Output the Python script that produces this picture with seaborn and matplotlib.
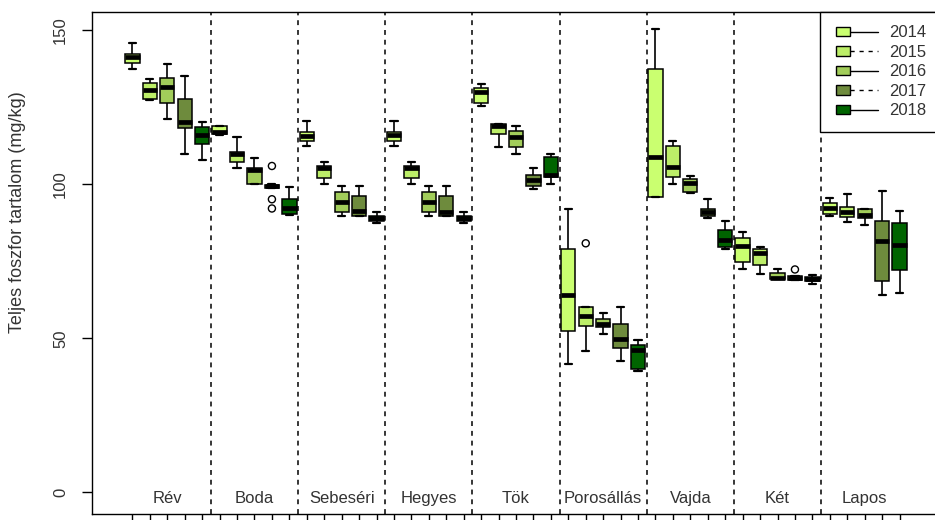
import numpy as np
import pandas as pd
import matplotlib
matplotlib.use("Agg")
import matplotlib.pyplot as plt
import matplotlib.transforms as mtransforms
from matplotlib.legend_handler import HandlerBase
from matplotlib.patches import Patch, Rectangle
from matplotlib.lines import Line2D
import seaborn as sns

# Sampling sites and years
sites = ["Rév", "Boda", "Sebeséri", "Hegyes", "Tök", "Porosállás", "Vajda", "Két", "Lapos"]
years = ["2014", "2015", "2016", "2017", "2018"]
colors = ["#CAFF70", "#BCEE68", "#A2CD5A", "#6E8B3D", "#006400"]
key_styles = ["-", "--", "-", "--", "-"]

# Five-number summaries (mg/kg), site by site, years 2014..2018
whisker_low = [
    137.4, 127.5, 121.4, 109.8, 108.0,   # Rév
    116.2, 105.3, 100.0, 98.8, 90.2,     # Boda
    112.5, 100.0, 89.8, 89.7, 87.4,      # Sebeséri
    112.5, 100.0, 89.8, 89.7, 87.4,      # Hegyes
    125.6, 112.3, 109.8, 98.4, 100.0,    # Tök
    41.8, 45.9, 51.6, 42.7, 39.3,        # Porosállás
    95.8, 100.1, 97.3, 89.0, 78.9,       # Vajda
    72.5, 70.8, 69.2, 68.9, 67.6,        # Két
    89.9, 87.7, 86.8, 64.1, 64.8,        # Lapos
]
box_low = [
    139.3, 127.7, 126.4, 118.4, 113.2,
    116.3, 107.2, 100.0, 99.0, 90.3,
    114.1, 102.2, 91.1, 89.7, 88.2,
    114.1, 102.2, 91.1, 89.7, 88.2,
    126.4, 116.3, 112.3, 99.6, 102.3,
    52.5, 54.1, 53.8, 46.9, 40.2,
    95.8, 102.5, 97.6, 89.8, 79.6,
    74.9, 74.0, 69.2, 68.9, 68.6,
    90.3, 89.3, 89.0, 68.6, 72.1,
]
median = [
    141.5, 130.7, 131.5, 120.4, 116.1,
    116.9, 109.9, 104.7, 99.5, 92.2,
    115.8, 105.5, 94.2, 91.4, 89.0,
    116.0, 105.3, 94.4, 91.1, 89.0,
    129.9, 119.0, 115.4, 101.5, 103.1,
    64.1, 57.3, 54.8, 49.7, 46.2,
    109.0, 105.6, 100.6, 91.1, 81.9,
    80.1, 77.6, 69.7, 69.6, 69.3,
    92.2, 91.1, 90.1, 81.7, 80.5,
]
box_high = [
    142.5, 133.1, 134.7, 127.7, 118.6,
    119.1, 110.7, 105.3, 99.8, 95.3,
    117.0, 106.1, 97.5, 96.2, 89.7,
    117.0, 106.1, 97.5, 96.2, 89.7,
    131.3, 119.6, 117.5, 103.1, 108.8,
    79.2, 60.3, 56.3, 54.6, 47.8,
    137.4, 112.5, 101.8, 92.0, 85.2,
    82.5, 79.2, 71.1, 70.2, 70.0,
    94.1, 92.8, 91.9, 88.1, 87.4,
]
whisker_high = [
    146.0, 134.3, 139.1, 135.3, 120.3,
    119.1, 115.3, 108.5, 100.0, 99.1,
    120.7, 107.2, 99.6, 99.6, 91.0,
    120.7, 107.2, 99.6, 99.6, 91.0,
    132.7, 119.6, 119.0, 105.3, 109.8,
    91.9, 60.3, 58.3, 60.3, 49.4,
    150.4, 114.0, 102.9, 95.3, 88.1,
    84.6, 79.6, 72.7, 70.2, 70.6,
    95.7, 96.8, 91.9, 98.0, 91.5,
]

# Outlying samples
outlier_site = ["Boda", "Boda", "Boda", "Porosállás", "Két"]
outlier_year = ["2017", "2017", "2017", "2015", "2017"]
outlier_value = [106.0, 95.2, 92.2, 80.9, 72.4]

sns.set_theme(style="ticks")
plt.rcParams["font.family"] = ["Liberation Sans", "DejaVu Sans"]
plt.rcParams["text.color"] = "#333333"

# Long table: one row per summary value, so each box is drawn from its own five numbers
rows = []
n_years = len(years)
for i, site in enumerate(sites):
    for j, year in enumerate(years):
        k = i * n_years + j
        for v in (whisker_low[k], box_low[k], median[k], box_high[k], whisker_high[k]):
            rows.append({"site": site, "year": year, "value": v})
df = pd.DataFrame(rows)


def slot(site, year):
    return sites.index(site) + (years.index(year) - (n_years - 1) / 2) / n_years


fig = plt.figure(figsize=(9.35, 5.2), dpi=100)
ax = fig.add_axes([92 / 935, 6 / 520, 848 / 935, 502 / 520])

# Group separators
for b in np.arange(len(sites) - 1) + 0.5:
    ax.axvline(b, color="black", lw=1.1, ls=(0, (3.2, 3.2)), zorder=0.5)

sns.boxplot(
    data=df, x="site", y="value", hue="year",
    order=sites, hue_order=years,
    palette=dict(zip(years, colors)), saturation=1,
    width=1.0, gap=0.18, dodge=True, whis=(0, 100),
    linecolor="black", linewidth=1.1, showfliers=False, legend=False,
    medianprops=dict(linewidth=3.4, color="black", solid_capstyle="butt"),
    whiskerprops=dict(linewidth=1.2, color="black"),
    capprops=dict(linewidth=1.6, color="black"),
    ax=ax,
)

sns.scatterplot(
    x=[slot(s, y) for s, y in zip(outlier_site, outlier_year)], y=outlier_value,
    marker="o", s=26, facecolors="none", edgecolor="black", linewidth=1.0,
    legend=False, ax=ax, zorder=4,
)

ax.set_xlim(-0.864, 8.864)
ax.set_ylim(-7, 156)
ax.set_xticks([slot(s, y) for s in sites for y in years])
ax.set_xticklabels([])
ax.set_yticks([0, 50, 100, 150])
ax.set_xlabel("")
ax.set_ylabel("")
ax.tick_params(axis="both", direction="out", length=7.2, width=1.0, color="black")
ax.tick_params(axis="y", labelrotation=90, pad=10, labelsize=12, labelcolor="#333333")
for lab in ax.get_yticklabels():
    lab.set_va("center")
for sp in ax.spines.values():
    sp.set_visible(True)
    sp.set_color("black")
    sp.set_linewidth(1.0)

# Site names along the bottom of the plotting area
blend = mtransforms.blended_transform_factory(ax.transData, ax.transAxes)
for i, site in enumerate(sites):
    ax.text(i, 0.022, site, transform=blend, ha="center", va="baseline",
            fontsize=12, color="#333333")

fig.text(18 / 935, 1 - 212 / 520, "Teljes foszfor tartalom (mg/kg)",
         rotation=90, ha="center", va="center", fontsize=13, color="#333333")


class BoxKeyHandler(HandlerBase):
    """Legend key: filled square followed by a short line."""

    def create_artists(self, legend, orig_handle, xdescent, ydescent,
                       width, height, fontsize, trans):
        x0 = -xdescent + 0.05 * width
        x1 = -xdescent + 0.38 * width
        yc = -ydescent + height / 2
        rh = 6.5
        rect = Rectangle((x0, yc - rh / 2), x1 - x0, rh,
                         facecolor=orig_handle.get_facecolor(),
                         edgecolor="black", linewidth=1.0, transform=trans)
        line = Line2D([x1, -xdescent + width], [yc, yc], color="black",
                      linewidth=1.0, linestyle=orig_handle.get_linestyle(),
                      transform=trans)
        if orig_handle.get_linestyle() == "--":
            line.set_dashes((3, 3.5))
        return [line, rect]


handles = [Patch(facecolor=c, edgecolor="black", linestyle=ls)
           for c, ls in zip(colors, key_styles)]
leg = ax.legend(
    handles=handles, labels=years, loc="upper right", borderaxespad=0,
    frameon=True, fancybox=False, framealpha=1, edgecolor="black",
    fontsize=12, handlelength=2.65, handletextpad=0.7, borderpad=0.8,
    labelspacing=0.27, handler_map={Patch: BoxKeyHandler()},
)
leg.get_frame().set_linewidth(1.0)
for t in leg.get_texts():
    t.set_color("#333333")

fig.savefig("out.png", dpi=100)
